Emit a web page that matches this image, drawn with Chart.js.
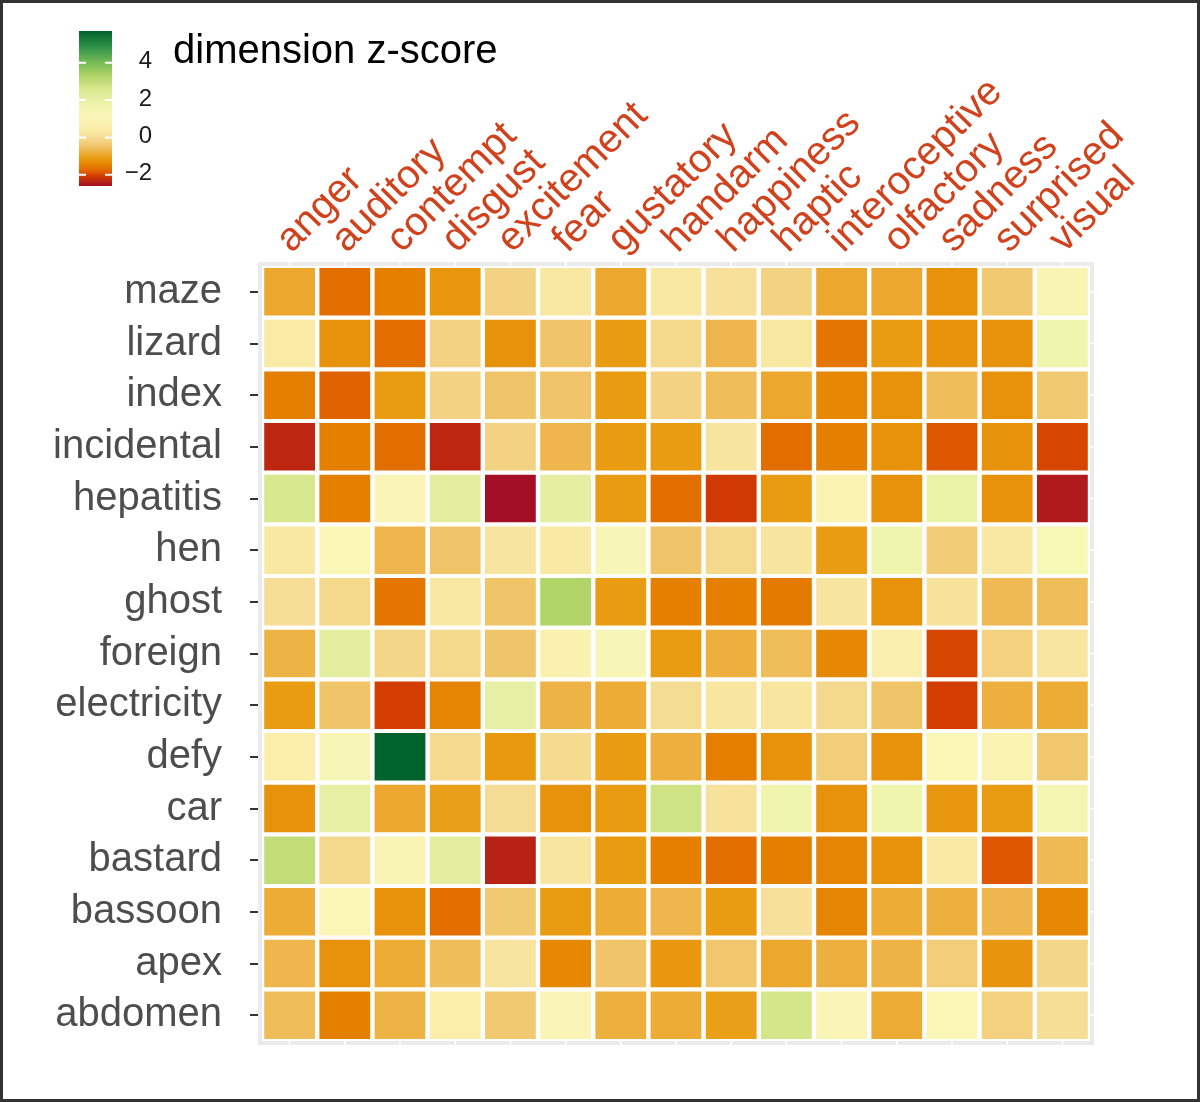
<!DOCTYPE html>
<html>
<head>
<meta charset="utf-8">
<script src="https://cdn.jsdelivr.net/npm/chart.js@4/dist/chart.umd.min.js"></script>
<style>
  html, body { margin: 0; padding: 0; background: #fff; }
  #wrap { width: 1200px; height: 1102px; position: relative; }
</style>
</head>
<body>
<div id="wrap"><canvas id="heat" width="1200" height="1102"></canvas></div>
<script>
// words (rows, top to bottom) and dimensions (columns)
const words = ['maze', 'lizard', 'index', 'incidental', 'hepatitis', 'hen', 'ghost', 'foreign',
    'electricity', 'defy', 'car', 'bastard', 'bassoon', 'apex', 'abdomen'];
const dimensions = ['anger', 'auditory', 'contempt', 'disgust', 'excitement', 'fear', 'gustatory',
    'handarm', 'happiness', 'haptic', 'interoceptive', 'olfactory', 'sadness', 'surprised', 'visual'];

// z-scores, one row per word, in dimension order
const zScores = [
    [-0.9, -1.7, -1.5, -1.2, -0.2, 0.3, -0.9, 0.3, 0.1, -0.2, -0.9, -0.9, -1.3, -0.4, 0.9],
    [0.4, -1.3, -1.7, -0.2, -1.3, -0.5, -1.1, -0.1, -0.7, 0.3, -1.6, -1.1, -1.3, -1.3, 1.7],
    [-1.5, -1.8, -1.1, -0.2, -0.5, -0.5, -1.1, -0.2, -0.6, -0.9, -1.4, -1.3, -0.6, -1.3, -0.4],
    [-2.3, -1.5, -1.7, -2.3, -0.2, -0.7, -1.1, -1.1, 0.2, -1.7, -1.5, -1.3, -1.9, -1.3, -2.0],
    [2.6, -1.5, 1.0, 2.2, -2.6, 2.1, -1.1, -1.7, -2.1, -1.1, 0.8, -1.3, 1.9, -1.3, -2.45],
    [0.3, 1.1, -0.7, -0.5, 0.2, 0.35, 1.2, -0.5, -0.1, 0.2, -1.1, 1.7, -0.35, 0.3, 1.3],
    [0.05, -0.1, -1.6, 0.3, -0.5, 3.3, -1.1, -1.5, -1.5, -1.55, 0.2, -1.3, 0.15, -0.65, -0.6],
    [-0.75, 2.2, -0.15, -0.1, -0.5, 0.7, 1.2, -1.1, -0.8, -0.6, -1.4, 0.6, -2.0, -0.25, 0.25],
    [-1.1, -0.5, -2.05, -1.45, 2.0, -0.75, -0.85, 0.0, 0.25, 0.25, -0.1, -0.5, -2.05, -0.8, -0.85],
    [0.55, 1.2, 5.7, -0.05, -1.15, -0.05, -1.1, -0.8, -1.5, -1.3, -0.3, -1.3, 1.1, 0.8, -0.45],
    [-1.3, 2.0, -0.9, -1.05, 0.0, -1.3, -1.1, 2.8, 0.15, 1.7, -1.3, 1.7, -1.2, -1.1, 1.6],
    [3.0, -0.1, 0.9, 2.2, -2.35, 0.25, -1.1, -1.5, -1.7, -1.5, -1.45, -1.3, 0.35, -1.9, -0.65],
    [-0.85, 1.1, -1.3, -1.7, -0.4, -1.1, -0.85, -0.7, -1.1, 0.1, -1.45, -0.85, -0.8, -0.7, -1.4],
    [-0.7, -1.3, -0.85, -0.6, 0.2, -1.4, -0.5, -1.2, -0.45, -0.9, -0.8, -0.75, -0.3, -1.25, -0.15],
    [-0.6, -1.5, -0.75, 0.55, -0.4, 1.0, -0.8, -0.85, -1.05, 2.7, 1.0, -0.85, 1.1, -0.25, 0.05]
];

// colour bar tick labels
const legendTicks = [-2, 0, 2, 4];

// red -> orange -> pale yellow -> green scale
const colourStops = [
    [-2.6, '#A30F25'], [-2.35, '#B82216'], [-2.05, '#D33E00'], [-1.9, '#DE5600'],
    [-1.7, '#E26E00'], [-1.5, '#E57F00'], [-1.3, '#E8910A'], [-1.1, '#E99C12'],
    [-0.9, '#ECA82E'], [-0.7, '#EEB64C'], [-0.5, '#F0C468'], [-0.3, '#F2CE7A'],
    [-0.1, '#F4D88C'], [0.1, '#F6E09A'], [0.3, '#F8E8A2'], [0.6, '#FAEFAC'],
    [1.0, '#FAF5B6'], [1.4, '#F6F7B6'], [1.7, '#F0F5AE'], [2.0, '#E6F0A4'],
    [2.2, '#E2EE9E'], [2.7, '#D4E68A'], [3.0, '#C2DC78'], [3.3, '#B0D468'],
    [4.0, '#78BC58'], [4.8, '#32954A'], [5.7, '#00632C']
];

const fontFamily = '"Liberation Sans", Arial, sans-serif';

function hexToRgb(h) {
    return [parseInt(h.slice(1, 3), 16), parseInt(h.slice(3, 5), 16), parseInt(h.slice(5, 7), 16)];
}

function zColour(v) {
    if (v <= colourStops[0][0]) return colourStops[0][1];
    for (let i = 1; i < colourStops.length; i++) {
        const [v1, c1] = colourStops[i];
        if (v <= v1) {
            const [v0, c0] = colourStops[i - 1];
            const t = (v - v0) / (v1 - v0);
            const a = hexToRgb(c0), b = hexToRgb(c1);
            const rgb = a.map((x, k) => Math.round(x + (b[k] - x) * t));
            return 'rgb(' + rgb.join(',') + ')';
        }
    }
    return colourStops[colourStops.length - 1][1];
}

const allValues = zScores.flat();
const zMin = Math.min(...allValues);
const zMax = Math.max(...allValues);

// one floating-bar dataset per word row
const datasets = words.map((w, i) => ({
    label: w,
    data: dimensions.map(() => [i + 0.04, i + 0.96]),
    backgroundColor: zScores[i].map(zColour),
    borderWidth: 0,
    borderSkipped: false
}));

// frame, panel border and colour bar
const decorations = {
    id: 'decorations',
    beforeDraw(chart) {
        const ctx = chart.ctx;
        ctx.save();
        ctx.fillStyle = '#fff';
        ctx.fillRect(0, 0, chart.width, chart.height);
        ctx.restore();
    },
    afterDraw(chart) {
        const ctx = chart.ctx;
        const area = chart.chartArea;
        const xs = chart.scales.x, ys = chart.scales.y;
        ctx.save();

        // panel border
        ctx.strokeStyle = '#EBEBEB';
        ctx.lineWidth = 4;
        ctx.strokeRect(area.left - 2, area.top - 2, area.right - area.left + 4, area.bottom - area.top + 4);

        // small white breaks at the tick positions
        ctx.strokeStyle = '#fff';
        ctx.lineWidth = 1.5;
        dimensions.forEach((d, i) => {
            const x = xs.getPixelForTick(i);
            ctx.beginPath();
            ctx.moveTo(x, area.top - 5); ctx.lineTo(x, area.top);
            ctx.moveTo(x, area.bottom); ctx.lineTo(x, area.bottom + 5);
            ctx.stroke();
        });
        words.forEach((w, i) => {
            const y = ys.getPixelForValue(i + 0.5);
            ctx.beginPath();
            ctx.moveTo(area.right, y); ctx.lineTo(area.right + 5, y);
            ctx.stroke();
        });

        // colour bar
        const barX = 79, barW = 33, barTop = 31, barBottom = 186;
        const toY = v => barBottom - (v - zMin) / (zMax - zMin) * (barBottom - barTop);
        const grad = ctx.createLinearGradient(0, barBottom, 0, barTop);
        colourStops.forEach(([v, c]) => {
            const t = (v - zMin) / (zMax - zMin);
            if (t >= 0 && t <= 1) grad.addColorStop(t, c);
        });
        ctx.fillStyle = grad;
        ctx.fillRect(barX, barTop, barW, barBottom - barTop);

        ctx.strokeStyle = '#fff';
        ctx.lineWidth = 2;
        ctx.fillStyle = '#1A1A1A';
        ctx.font = '24px ' + fontFamily;
        ctx.textAlign = 'right';
        ctx.textBaseline = 'middle';
        legendTicks.forEach(t => {
            const y = toY(t);
            ctx.beginPath();
            ctx.moveTo(barX, y); ctx.lineTo(barX + 7, y);
            ctx.moveTo(barX + barW - 7, y); ctx.lineTo(barX + barW, y);
            ctx.stroke();
            ctx.fillText(t < 0 ? '\u2212' + Math.abs(t) : String(t), 152, y - 1);
        });

        ctx.fillStyle = '#000';
        ctx.font = '40px ' + fontFamily;
        ctx.textAlign = 'left';
        ctx.textBaseline = 'alphabetic';
        ctx.fillText('dimension z-score', 173, 63);

        // outer frame
        ctx.strokeStyle = '#333';
        ctx.lineWidth = 3;
        ctx.strokeRect(1.5, 1.5, chart.width - 3, chart.height - 3);
        ctx.restore();
    }
};

document.addEventListener('DOMContentLoaded', function () {
    const ctx = document.getElementById('heat').getContext('2d');
    new Chart(ctx, {
        type: 'bar',
        data: { labels: dimensions, datasets: datasets },
        options: {
            responsive: false,
            devicePixelRatio: 1,
            animation: false,
            layout: { padding: { left: 0, top: 0, right: 110, bottom: 61 } },
            datasets: {
                bar: { grouped: false, categoryPercentage: 1, barPercentage: 0.92 }
            },
            plugins: { legend: { display: false }, tooltip: { enabled: false } },
            scales: {
                x: {
                    type: 'category',
                    position: 'top',
                    offset: true,
                    grid: { display: false },
                    border: { display: false },
                    ticks: {
                        autoSkip: false,
                        minRotation: 45,
                        maxRotation: 45,
                        padding: -5,
                        labelOffset: 28,
                        color: '#D0411C',
                        font: { family: fontFamily, size: 40 }
                    },
                    afterFit: axis => {
                        axis.height = 266;
                        axis.paddingLeft = 0;
                        axis.paddingRight = 0;
                    }
                },
                y: {
                    type: 'linear',
                    min: 0,
                    max: words.length,
                    reverse: true,
                    grid: {
                        drawOnChartArea: false,
                        drawTicks: true,
                        tickLength: 12,
                        color: '#333',
                        lineWidth: 2
                    },
                    border: { display: false },
                    afterBuildTicks: axis => {
                        axis.ticks = words.map((w, i) => ({ value: i + 0.5 }));
                    },
                    ticks: {
                        autoSkip: false,
                        padding: 28,
                        color: '#4D4D4D',
                        font: { family: fontFamily, size: 40 },
                        callback: (val, index) => words[index]
                    },
                    afterFit: axis => {
                        axis.width = 262;
                        axis.paddingTop = 0;
                        axis.paddingBottom = 0;
                    }
                }
            }
        },
        plugins: [decorations]
    });
});
</script>
</body>
</html>
